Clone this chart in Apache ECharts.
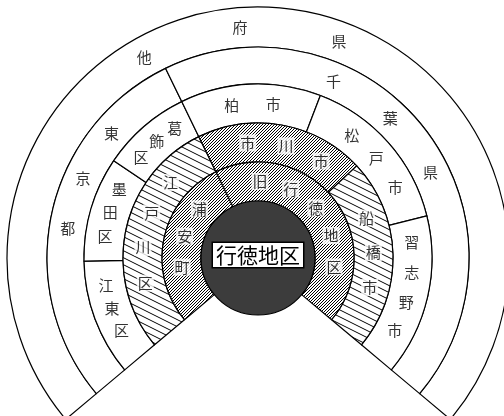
<!DOCTYPE html>
<html><head><meta charset="utf-8">
<script src="https://cdn.jsdelivr.net/npm/echarts@6/dist/echarts.min.js"></script>
<style>html,body{margin:0;padding:0;background:#fff}#c{width:504px;height:416px}</style>
</head><body><div id="c"></div>
<script>
// ---- data (angular share of each area, degrees) ----
const centerName = '行徳地区';
const ring1Names = ['浦安町', '旧行徳地区'];
const ring1Values = [104, 156];
const ring2Names = ['江戸川区', '市川市', '船橋市'];
const ring2Values = [104, 73, 83];
const ring3Names = ['江東区', '墨田区', '葛飾区', '柏市', '松戸市', '習志野市'];
const ring3Values = [39, 35, 30, 47, 55, 54];
const ring4Names = ['東京都', '千葉県'];
const ring4Values = [104, 156];
const ring5Names = ['他府県'];
const ring5Values = [260];

// ---- label layout: text, ring, angle of first char, step (deg) ----
const labelLayout = [
  ['他府県', 5, 119.5, -25],
  ['東京都', 4, 139.6, 15.8],
  ['千葉県', 4, 66.9, -20.3],
  ['江東区', 3, 190.2, 8.85],
  ['墨田区', 3, 153.8, 9.1],
  ['葛飾区', 3, 122.6, 8.3],
  ['柏市', 3, 99.8, -15.5],
  ['松戸市', 3, 52.6, -12.6],
  ['習志野市', 3, 5.9, -11.2],
  ['江戸川区', 2, 139.2, 17.8],
  ['市川市', 2, 95.1, -19.1],
  ['船橋市', 2, 20.2, -17.5],
  ['浦安町', 1, 140, 23.4],
  ['旧行徳地区', 1, 88.5, -23.8]
];

// ---- style ----
const R = [57, 96, 135, 174, 211, 251];
const C = [258, 258];
const FONT = '"Noto Sans CJK JP", "Noto Sans CJK SC", sans-serif';

function makeCanvas(w, h, draw) {
  const c = document.createElement('canvas');
  c.width = w; c.height = h;
  const g = c.getContext('2d');
  g.fillStyle = '#fff'; g.fillRect(0, 0, w, h);
  g.fillStyle = '#000'; g.strokeStyle = '#000';
  draw(g);
  return c;
}
// fine "///" hatch: crisp 1px diagonal lines, 3px apart
const fineCanvas = makeCanvas(3, 3, g => {
  g.fillRect(0, 2, 1, 1); g.fillRect(1, 1, 1, 1); g.fillRect(2, 0, 1, 1);
});
// coarse "\\\" hatch, slope 1/2
const coarseCanvas = makeCanvas(14, 7, g => {
  g.lineWidth = 1;
  for (let k = -2; k <= 2; k++) {
    const c = k * 7;
    g.beginPath(); g.moveTo(-14, c - 7); g.lineTo(28, c + 14); g.stroke();
  }
});
const FINE = { image: fineCanvas, repeat: 'repeat' };
const COARSE = { image: coarseCanvas, repeat: 'repeat' };
const WHITE = '#fff';

function ring(names, values, i, fills) {
  return {
    type: 'pie', center: C, radius: [R[i - 1], R[i]],
    startAngle: 220, endAngle: -40, clockwise: true,
    silent: true, animation: false,
    label: { show: false }, labelLine: { show: false },
    emphasis: { disabled: true },
    itemStyle: { borderColor: '#000', borderWidth: 1.2 },
    data: names.map((n, j) => ({ name: n, value: values[j], itemStyle: { color: fills[j] } }))
  };
}

const labelData = [];
labelLayout.forEach(([text, ri, a0, step]) => {
  const r = (R[ri - 1] + R[ri]) / 2;
  [...text].forEach((ch, k) => {
    const item = { name: ch, value: [r, a0 + step * k] };
    if (ri <= 2) item.label = { backgroundColor: '#fff', padding: [1, 1] };
    labelData.push(item);
  });
});

const chart = echarts.init(document.getElementById('c'));
chart.setOption({
  animation: false,
  polar: { center: C, radius: R[5] },
  angleAxis: { type: 'value', min: -90, max: 270, startAngle: 270, clockwise: false, show: false,
    axisLine: { show: false }, splitLine: { show: false }, axisLabel: { show: false }, axisTick: { show: false } },
  radiusAxis: { type: 'value', min: 0, max: R[5], show: false,
    axisLine: { show: false }, splitLine: { show: false }, axisLabel: { show: false }, axisTick: { show: false } },
  series: [
    ring(ring5Names, ring5Values, 5, [WHITE]),
    ring(ring4Names, ring4Values, 4, [WHITE, WHITE]),
    ring(ring3Names, ring3Values, 3, ring3Names.map(() => WHITE)),
    ring(ring2Names, ring2Values, 2, [COARSE, FINE, COARSE]),
    ring(ring1Names, ring1Values, 1, [FINE, FINE]),
    {
      type: 'pie', center: C, radius: [0, R[0]], startAngle: 90,
      silent: true, animation: false, emphasis: { disabled: true },
      labelLine: { show: false },
      itemStyle: { color: '#3c3c3c', borderColor: '#000', borderWidth: 1.2 },
      label: { show: true, position: 'center', formatter: '{b}', fontFamily: FONT, fontSize: 21,
        color: '#000', backgroundColor: '#fff', borderColor: '#000', borderWidth: 1.5,
        padding: [1, 3, 0, 3], lineHeight: 23, offset: [0, -3] },
      data: [{ name: centerName, value: 1 }]
    },
    {
      type: 'scatter', coordinateSystem: 'polar', z: 10, silent: true,
      symbolSize: 1, itemStyle: { color: 'rgba(0,0,0,0)' },
      label: { show: true, position: 'inside', formatter: '{b}', fontFamily: FONT, fontSize: 15, color: '#000' },
      data: labelData
    }
  ]
});
</script>
</body></html>
